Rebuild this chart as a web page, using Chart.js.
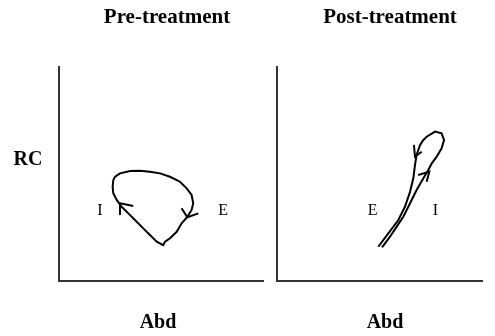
<!DOCTYPE html>
<html>
<head>
<meta charset="utf-8">
<script src="https://cdn.jsdelivr.net/npm/chart.js@4/dist/chart.umd.min.js"></script>
<style>
  html, body { margin: 0; padding: 0; background: #ffffff; }
  #wrap { position: relative; width: 495px; height: 336px; overflow: hidden; }
  canvas { position: absolute; top: 0; }
  #pre { left: 0; }
  #post { left: 270px; }
</style>
</head>
<body>
<div id="wrap">
  <canvas id="pre" width="270" height="336"></canvas>
  <canvas id="post" width="225" height="336"></canvas>
</div>
<script>
// RC vs Abd loop, pre-treatment (axis units 0-100)
const preAbd = [26.6, 27.5, 29.9, 34.8, 39.7, 44.6, 49.5, 54.4, 59.3, 62.6, 65.0, 65.8, 65.0, 62.9,
                60.1, 57.7, 54.4, 52.0, 51.1, 47.9, 44.6, 41.3, 38.1, 34.0, 30.7, 28.3, 26.6, 26.3, 26.6];
const preRC  = [47.2, 48.7, 50.3, 51.4, 51.5, 51.1, 50.3, 48.7, 46.4, 43.3, 40.2, 36.3, 33.2, 30.0,
                27.0, 23.0, 20.0, 18.4, 16.8, 18.4, 21.5, 24.6, 27.7, 31.6, 34.7, 37.9, 41.0, 44.1, 47.2];

// RC vs Abd loop, post-treatment
const postAbd = [49.4, 54.3, 59.2, 62.4, 64.9, 66.5, 67.3, 68.1, 69.8, 71.4, 73.0, 77.1, 80.3,
                 81.5, 80.3, 77.9, 75.5, 73.8, 71.4, 68.1, 64.9, 61.6, 58.4, 55.1, 52.7, 51.2];
const postRC  = [16.0, 22.3, 28.5, 34.7, 41.7, 48.0, 54.2, 58.9, 63.6, 65.9, 67.4, 69.8, 69.0,
                 65.9, 62.0, 58.1, 55.0, 51.9, 48.0, 42.5, 36.3, 30.0, 25.4, 20.7, 17.6, 15.7];

// Direction arrowheads: wing, tip, wing
const preArrowIAbd  = [29.9, 29.9, 36.4];
const preArrowIRC   = [30.8, 36.3, 35.0];
const preArrowEAbd  = [60.1, 62.9, 68.3];
const preArrowERC   = [34.0, 29.8, 31.6];
const postArrowEAbd = [66.8, 67.3, 70.6];
const postArrowERC  = [63.6, 58.1, 60.4];
const postArrowIAbd = [68.9, 74.3, 73.0];
const postArrowIRC  = [49.5, 51.1, 46.4];

// Phase labels (inspiration / expiration) placed in axis units
const preLabels  = [{ text: 'I', abd: 20.1, rc: 33.0 }, { text: 'E', abd: 80.4, rc: 32.7 }];
const postLabels = [{ text: 'E', abd: 46.6, rc: 32.7 }, { text: 'I', abd: 77.3, rc: 32.7 }];

const panelTitles = ['Pre-treatment', 'Post-treatment'];
const xAxisLabel = 'Abd';
const yAxisLabel = 'RC';

const toPoints = (xs, ys) => xs.map((x, i) => ({ x: x, y: ys[i] }));

const lineStyle = {
  showLine: true,
  borderColor: '#000000',
  borderWidth: 2,
  pointRadius: 0,
  pointHoverRadius: 0,
  tension: 0,
  fill: false
};

// Draws the panel title, axis captions and I/E markers as canvas text
const panelText = {
  id: 'panelText',
  afterDraw(chart, args, opts) {
    const { ctx, scales } = chart;
    ctx.save();
    ctx.fillStyle = '#000000';
    ctx.textAlign = 'center';
    ctx.textBaseline = 'alphabetic';
    ctx.font = 'bold 21px "Liberation Serif", "Times New Roman", serif';
    ctx.fillText(opts.title, opts.titleX, 23);
    ctx.font = 'bold 20px "Liberation Serif", "Times New Roman", serif';
    ctx.fillText(xAxisLabel, opts.abdX, 328);
    if (opts.showRC) ctx.fillText(yAxisLabel, 28, 165);
    ctx.font = '16px "Liberation Serif", "Times New Roman", serif';
    ctx.textBaseline = 'middle';
    opts.labels.forEach(l => {
      ctx.fillText(l.text, scales.x.getPixelForValue(l.abd), scales.y.getPixelForValue(l.rc));
    });
    ctx.restore();
  }
};

function axisOpts() {
  return {
    type: 'linear',
    min: 0,
    max: 100,
    grid: { display: false, drawTicks: false },
    ticks: { display: false },
    border: { display: true, color: '#333333', width: 2 }
  };
}

function makePanel(id, datasets, padding, textOpts) {
  return new Chart(document.getElementById(id), {
    type: 'scatter',
    data: { datasets: datasets },
    options: {
      responsive: false,
      animation: false,
      devicePixelRatio: 1,
      layout: { padding: padding },
      scales: { x: axisOpts(), y: axisOpts() },
      plugins: {
        legend: { display: false },
        tooltip: { enabled: false },
        panelText: textOpts
      }
    },
    plugins: [panelText]
  });
}

makePanel('pre', [
  Object.assign({ data: toPoints(preAbd, preRC) }, lineStyle),
  Object.assign({ data: toPoints(preArrowIAbd, preArrowIRC) }, lineStyle),
  Object.assign({ data: toPoints(preArrowEAbd, preArrowERC) }, lineStyle)
], { left: 59, top: 67, right: 7, bottom: 55 },
{ title: panelTitles[0], titleX: 167, abdX: 158, showRC: true, labels: preLabels });

makePanel('post', [
  Object.assign({ data: toPoints(postAbd, postRC) }, lineStyle),
  Object.assign({ data: toPoints(postArrowEAbd, postArrowERC) }, lineStyle),
  Object.assign({ data: toPoints(postArrowIAbd, postArrowIRC) }, lineStyle)
], { left: 7, top: 67, right: 13, bottom: 55 },
{ title: panelTitles[1], titleX: 120, abdX: 115, showRC: false, labels: postLabels });
</script>
</body>
</html>
